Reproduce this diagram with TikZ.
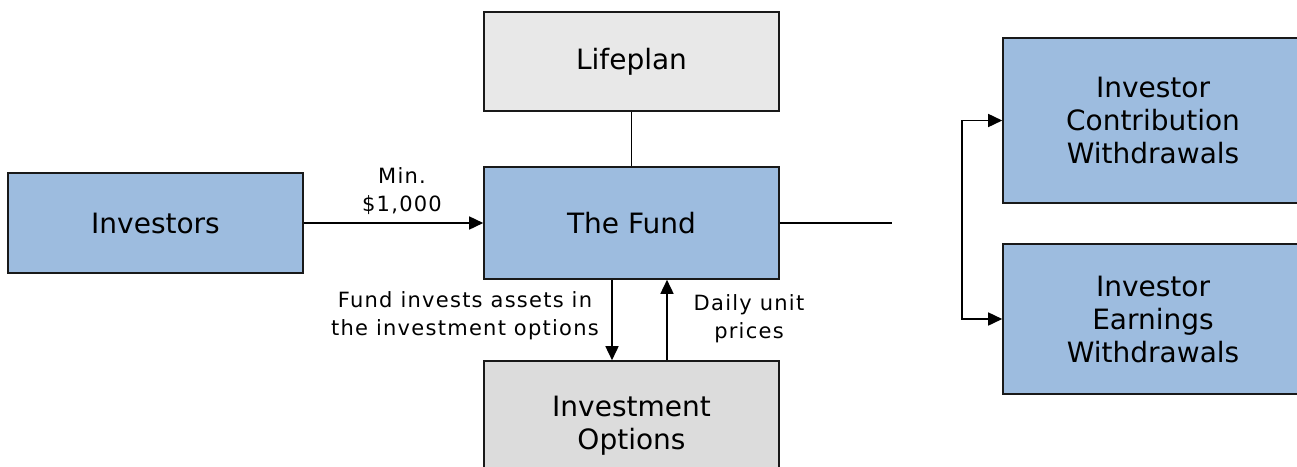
\documentclass[tikz,border=0pt]{standalone}
\usepackage{fontspec}
\setmainfont{DejaVu Sans}
\newfontfamily\lblfont[LetterSpace=6]{DejaVu Sans}
\usetikzlibrary{arrows.meta}
\definecolor{fundblue}{RGB}{157,188,223}
\definecolor{plangray}{RGB}{232,232,232}
\definecolor{optgray}{RGB}{220,220,220}
\tikzset{>={Triangle[length=14pt,width=13pt]}}
\tikzset{
  box/.style={draw=black!90,line width=1.6pt,align=center,inner sep=0pt,
    font=\fontsize{28}{33}\selectfont},
  bluebox/.style={box,fill=fundblue},
  lbl/.style={align=center,inner sep=0pt,font=\lblfont\fontsize{21}{28}\selectfont},
  link/.style={line width=1.6pt}
}

\begin{document}
\begin{tikzpicture}[x=1pt,y=-1pt]
    \useasboundingbox (0,0) rectangle (1297,466);
    % boxes
    \node[bluebox,minimum width=295pt,minimum height=100pt] (investors) at (155.5,223) {Investors};
    \node[bluebox,minimum width=295pt,minimum height=112pt] (fund) at (631.5,223) {The Fund};
    \node[box,fill=plangray,minimum width=295pt,minimum height=99pt] (lifeplan) at (631.5,61.5) {Lifeplan};
    \node[box,fill=optgray,minimum width=295pt,minimum height=130pt] (options) at (631.5,426) {Investment\\Options};
    \node[bluebox,minimum width=300pt,minimum height=165pt] (contrib) at (1153,120.5) {Investor\\Contribution\\Withdrawals};
    \node[bluebox,minimum width=300pt,minimum height=150pt] (earnings) at (1153,319) {Investor\\Earnings\\Withdrawals};

    % labels
    \node[lbl] (minlbl) at (402,191) {Min.\\\$1,000};
    \node[lbl] (investlbl) at (465,316) {Fund invests assets in\\the investment options};
    \node[lbl] (pricelbl) at (749,319) {Daily unit\\prices};

    % connectors
    \draw[link,->] (investors) -- (fund);
    \draw[link] (lifeplan) -- (fund);
    \draw[link,->] ([xshift=-19.5pt]fund.south) -- ([xshift=-19.5pt]options.north);
    \draw[link,->] ([xshift=35.5pt]options.north) -- ([xshift=35.5pt]fund.south);
    \coordinate (fundout) at (892,223);
    \draw[link] (fund) -- (fundout);
    \coordinate (split) at (962,219);
    \draw[link,->] (split) |- (contrib);
    \draw[link,->] (split) |- (earnings);
\end{tikzpicture}
\end{document}
